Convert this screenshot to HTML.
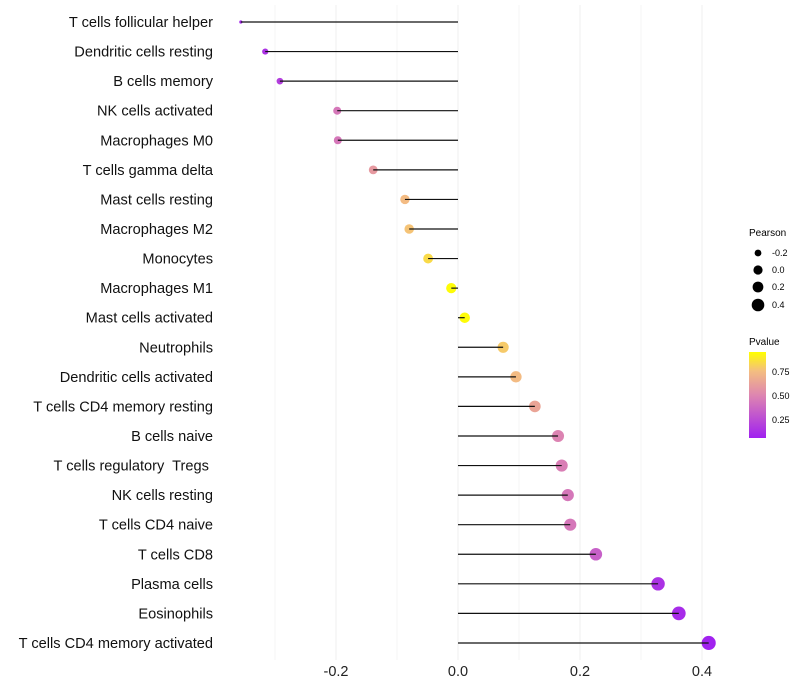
<!DOCTYPE html>
<html><head><meta charset="utf-8"><style>
body{margin:0;background:#fff;font-family:"Liberation Sans",sans-serif}
svg{display:block}
text{white-space:pre}
</style></head><body>
<svg id="chart" width="800" height="700">
<defs>
<linearGradient id="pg" x1="0" y1="1" x2="0" y2="0">
<stop offset="0" stop-color="#A020F0"/><stop offset="0.5" stop-color="#DE86B0"/><stop offset="0.78" stop-color="#F4BE80"/><stop offset="1" stop-color="#FFFF00"/>
</linearGradient>
</defs>
<g id="grid"></g>
<g id="marks"></g>
<g id="labels"></g>
<g id="xt"></g>
<g font-size="9">
<text x="749" y="236" font-size="10">Pearson</text>
<circle cx="758" cy="253" r="3.4"/><text x="772" y="256">-0.2</text>
<circle cx="758" cy="270" r="4.6"/><text x="772" y="273">0.0</text>
<circle cx="758" cy="287" r="5.4"/><text x="772" y="290">0.2</text>
<circle cx="758" cy="305" r="6.3"/><text x="772" y="308">0.4</text>
</g>
<g font-size="9">
<text x="749" y="345" font-size="10">Pvalue</text>
<rect x="749" y="352" width="17" height="86" fill="url(#pg)"/>
<text x="772" y="375">0.75</text>
<text x="772" y="399">0.50</text>
<text x="772" y="423">0.25</text>
</g>
</svg>
<script>
const cells=["T cells follicular helper","Dendritic cells resting","B cells memory","NK cells activated","Macrophages M0","T cells gamma delta","Mast cells resting","Macrophages M2","Monocytes","Macrophages M1","Mast cells activated","Neutrophils","Dendritic cells activated","T cells CD4 memory resting","B cells naive","T cells regulatory  Tregs ","NK cells resting","T cells CD4 naive","T cells CD8","Plasma cells","Eosinophils","T cells CD4 memory activated"];
const pearson=[-0.356,-0.316,-0.292,-0.198,-0.197,-0.139,-0.087,-0.080,-0.049,-0.011,0.011,0.074,0.095,0.126,0.164,0.170,0.180,0.184,0.226,0.328,0.362,0.411];
const pvalue=[0.10,0.15,0.20,0.45,0.45,0.60,0.75,0.78,0.85,0.95,0.95,0.80,0.75,0.65,0.50,0.48,0.45,0.45,0.35,0.15,0.12,0.08];
const xTicks=[-0.2,0,0.2,0.4];
const xMinor=[-0.3,-0.1,0.1,0.3];
const NS="http://www.w3.org/2000/svg";
const x=v=>458+v*610;
const y=i=>22+i*29.57;
const rad=v=>v<-0.34?1.6:Math.sqrt(Math.max(2.25,27+55*v));
const stops=[[0,[160,32,240]],[0.5,[222,134,176]],[0.78,[244,190,128]],[1,[255,255,0]]];
function col(p){let t=(p-0.07)/(0.96-0.07);t=Math.max(0,Math.min(1,t));
for(let k=1;k<stops.length;k++){if(t<=stops[k][0]){const a=stops[k-1],b=stops[k],f=(t-a[0])/(b[0]-a[0]);
return "rgb("+a[1].map((c,j)=>Math.round(c+(b[1][j]-c)*f)).join(",")+")";}}return "rgb(255,255,0)";}
function mk(tag,attrs,parent){const e=document.createElementNS(NS,tag);for(const k in attrs)e.setAttribute(k,attrs[k]);document.getElementById(parent).appendChild(e);return e;}
xMinor.forEach(v=>{const l=mk("line",{x1:x(v),x2:x(v),y1:5,y2:660,stroke:"#f6f6f6","stroke-width":1},"grid");

});
xTicks.forEach(v=>{const l=mk("line",{x1:x(v),x2:x(v),y1:5,y2:660,stroke:"#efefef","stroke-width":1},"grid");


const t=mk("text",{x:x(v),y:676,"text-anchor":"middle","font-size":14.5,fill:"#222"},"xt");t.textContent=v===0?"0.0":String(v);

});
cells.forEach((c,i)=>{
const d=mk("circle",{cx:x(pearson[i]),cy:y(i),r:rad(pearson[i]),fill:col(pvalue[i])},"marks");


const l=mk("line",{x1:x(0),x2:x(pearson[i]),y1:y(i),y2:y(i),stroke:"#111","stroke-width":1.2},"marks");


const t=mk("text",{x:213,y:y(i)+5,"text-anchor":"end","font-size":14.6,fill:"#111"},"labels");t.textContent=c;


});
</script>
</body></html>
